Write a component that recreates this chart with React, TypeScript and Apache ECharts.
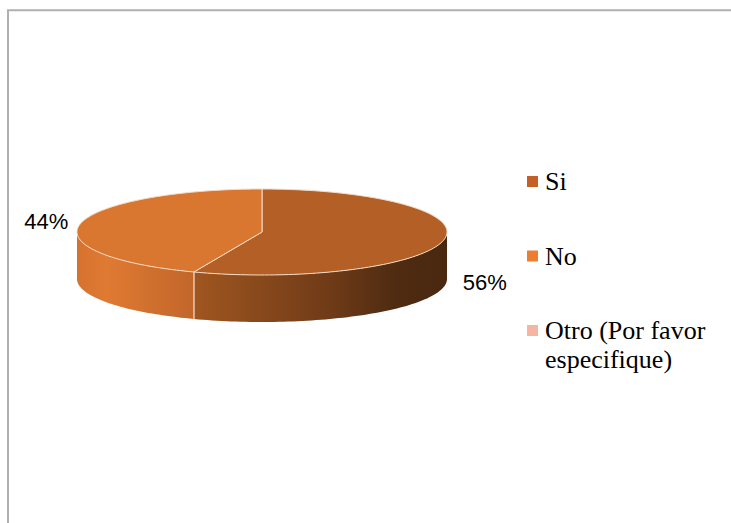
import React, { useEffect, useRef } from "react";
import * as echarts from "echarts";

const categories = ["Si", "No", "Otro (Por favor\nespecifique)"];
const values = [56, 44, 0];
const legendColors = ["#c55f28", "#ed7d31", "#f4b6a0"];
const topColors = ["#b35f26", "#d97630", "#f4b6a0"];
const sideStops = [
  [
    { offset: 0, color: "#a05620" },
    { offset: 0.55, color: "#6e3a17" },
    { offset: 0.8, color: "#4e2b11" },
    { offset: 1, color: "#4a2810" },
  ],
  [
    { offset: 0, color: "#d5722e" },
    { offset: 0.25, color: "#df7a32" },
    { offset: 1, color: "#c2662a" },
  ],
  [
    { offset: 0, color: "#f4b6a0" },
    { offset: 1, color: "#e0a088" },
  ],
];

export default function App() {
  const ref = useRef<HTMLDivElement>(null);
  useEffect(() => {
    const chart = echarts.init(ref.current!, null, { renderer: "svg" });
    const total = values.reduce((a, b) => a + b, 0);
    const cum: number[] = [];
    let s = 0;
    values.forEach((v) => {
      cum.push(s);
      s += v;
    });
    const data = values.map((v, i) => ({ value: [v, cum[i], i], name: categories[i] }));
    const CX = 262, CY = 232, RX = 185, RY = 43, DEPTH = 47;
    const EDGE = "#f3dcc8";
    const pt = (deg: number, dy = 0) => {
      const r = (deg * Math.PI) / 180;
      return [CX + RX * Math.sin(r), CY - RY * Math.cos(r) + dy];
    };
    const arcPts = (a0: number, a1: number, dy = 0) => {
      const n = Math.max(2, Math.ceil(Math.abs(a1 - a0) / 1.5));
      const out: number[][] = [];
      for (let k = 0; k <= n; k++) out.push(pt(a0 + ((a1 - a0) * k) / n, dy));
      return out;
    };

    const legendGraphics: any[] = [];
    categories.forEach((c, i) => {
      const yc = 181.5 + i * 74.5;
      legendGraphics.push({
        type: "rect",
        shape: { x: 527, y: yc - 5.5, width: 11, height: 11 },
        style: { fill: legendColors[i] },
      });
      legendGraphics.push({
        type: "text",
        x: 545,
        y: yc - 14.5,
        style: {
          text: c,
          font: '26px "Liberation Serif"',
          fill: "#000000",
          textAlign: "left",
          textVerticalAlign: "top",
          lineHeight: 29,
        },
      });
    });

    chart.setOption({
      animation: false,
      graphic: [
        {
          type: "rect",
          shape: { x: 8, y: 10.3, width: 1000, height: 1000 },
          style: { fill: "none", stroke: "#b0b0b0", lineWidth: 2 },
          z: -10,
        },
        ...legendGraphics,
      ],
      series: [
        {
          type: "custom",
          coordinateSystem: "none",
          data,
          renderItem: (params: any, api: any) => {
            const v = api.value(0);
            const start = api.value(1);
            const i = api.value(2);
            if (!v) return { type: "group", children: [] };
            const a0 = (start / total) * 360;
            const a1 = ((start + v) / total) * 360;
            const children: any[] = [];
            const s0 = Math.max(a0, 90), s1 = Math.min(a1, 270);
            if (s1 > s0) {
              const topE = arcPts(s0, s1);
              const botE = arcPts(s1, s0, DEPTH);
              const xs = topE.map((p) => p[0]);
              const xMin = Math.min(...xs), xMax = Math.max(...xs);
              children.push({
                type: "polygon",
                shape: { points: [...topE, ...botE] },
                style: {
                  fill: {
                    type: "linear",
                    x: xMin,
                    y: 0,
                    x2: xMax,
                    y2: 0,
                    global: true,
                    colorStops: sideStops[i],
                  },
                },
              });
              [a0, a1].forEach((a) => {
                if (a > 90 && a < 270) {
                  const p = pt(a);
                  children.push({
                    type: "line",
                    shape: { x1: p[0], y1: p[1], x2: p[0], y2: p[1] + DEPTH },
                    style: { stroke: EDGE, lineWidth: 1 },
                  });
                }
              });
            }
            children.push({
              type: "polygon",
              shape: { points: [[CX, CY], ...arcPts(a0, a1)] },
              style: { fill: topColors[i], stroke: EDGE, lineWidth: 1 },
            });
            const m = (a0 + a1) / 2;
            const r = (m * Math.PI) / 180;
            const p = pt(m);
            const right = Math.sin(r) > 0;
            children.push({
              type: "text",
              x: right ? p[0] + 19 : p[0] - 12,
              y: Math.cos(r) < 0 ? p[1] + DEPTH * 0.9 : p[1] - 2,
              style: {
                text: Math.round((v / total) * 100) + "%",
                font: '22px "Liberation Sans"',
                fill: "#000000",
                textAlign: right ? "left" : "right",
                textVerticalAlign: "middle",
              },
            });
            return { type: "group", children };
          },
        },
      ],
    });
    return () => chart.dispose();
  }, []);
  return (
    <div
      ref={ref}
      style={{ position: "fixed", left: 0, top: 0, width: 731, height: 523, background: "#ffffff" }}
    />
  );
}
